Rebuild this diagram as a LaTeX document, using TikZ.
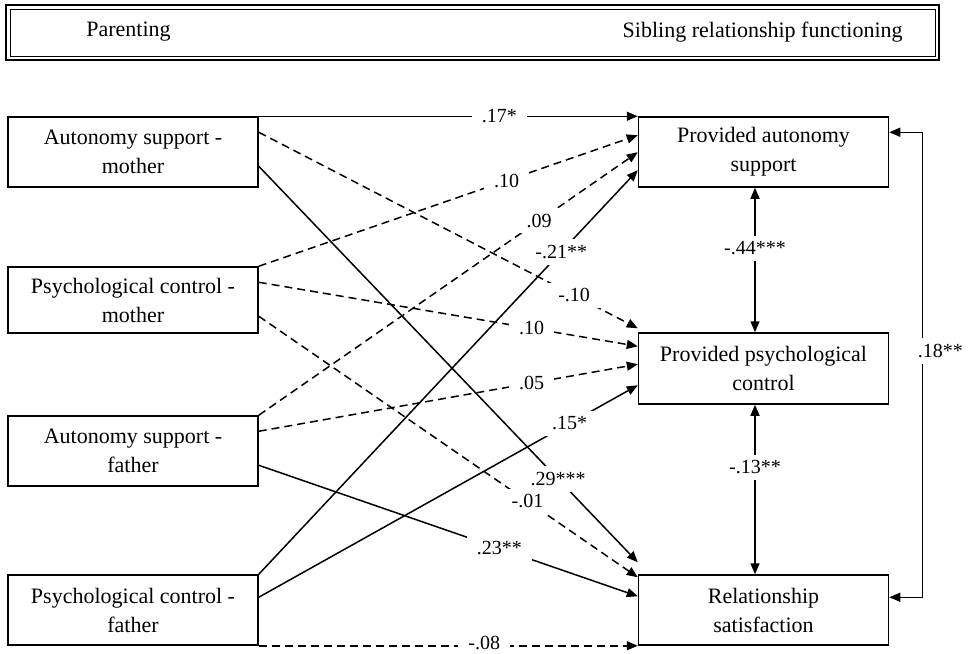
\documentclass[tikz,border=0pt]{standalone}
\usepackage{fontspec}
\setmainfont{Liberation Serif}
\usetikzlibrary{arrows.meta}
\tikzset{>={Stealth[length=5.5pt,width=4.5pt,inset=0pt]}}
\tikzset{
  varbox/.style={draw, line width=0.75pt, minimum width=125pt, minimum height=35pt, inner sep=0pt, align=center, font=\fontsize{11}{14.5}\selectfont},
  coef/.style={fill=white, inner xsep=5pt, inner ysep=3pt, font=\fontsize{10}{12}\selectfont},
  sig/.style={->, line width=0.75pt},
  nsig/.style={->, line width=0.75pt, dash pattern=on 4pt off 2.5pt}
}

\begin{document}
\begin{tikzpicture}[x=0.5pt, y=-0.5pt]
\useasboundingbox (0,0) rectangle (973,653);
\draw [line width=1.1pt] (6,5) rectangle (939,60);
\draw [line width=0.5pt] (10,9) rectangle (935,56);
\node (par) at (86,32) [anchor=west, inner sep=0pt, font=\fontsize{11}{13}\selectfont] {Parenting};
\node (sib) at (903,32) [anchor=east, inner sep=0pt, font=\fontsize{11}{13}\selectfont] {Sibling relationship functioning};
\node [varbox] (asm) at (133,152) {Autonomy support -\\mother};
\node [varbox, minimum height=33pt] (pcm) at (133,300) {Psychological control -\\mother};
\node [varbox] (asf) at (133,451) {Autonomy support -\\father};
\node [varbox] (pcf) at (133,610) {Psychological control -\\father};
\node [varbox] (pas) at (763.5,152) {Provided autonomy\\support};
\node [varbox, minimum height=35.5pt] (ppc) at (763.5,368.5) {Provided psychological\\control};
\node [varbox] (rs) at (763.5,610) {Relationship\\satisfaction};
\draw [sig] (asm.north east) -- (pas.north west) node [coef, pos=0.635] {.17*};
\draw [nsig] (pcm.north east) -- ([yshift=-9.5pt]pas.north west) node [coef, pos=0.654] {.10};
\draw [nsig] (asf.north east) -- ([yshift=-18pt]pas.north west) node [coef, pos=0.74] {.09};
\draw [sig] (pcf.north east) -- ([yshift=-27pt]pas.north west) node [coef, pos=0.798] {-.21**};
\draw [nsig] ([yshift=-8pt]asm.north east) -- ([yshift=2pt]ppc.north west) node [coef, pos=0.832] {-.10};
\draw [nsig] ([yshift=-8pt]pcm.north east) -- ([yshift=-7pt]ppc.north west) node [coef, pos=0.72] {.10};
\draw [nsig] ([yshift=-8pt]asf.north east) -- ([yshift=-16pt]ppc.north west) node [coef, pos=0.72] {.05};
\draw [sig] ([yshift=-11.5pt]pcf.north east) -- ([yshift=-26.5pt]ppc.north west) node [coef, pos=0.82] {.15*};
\draw [sig] ([yshift=-25pt]asm.north east) -- ([yshift=6pt]rs.north west) node [coef, pos=0.79] {.29***};
\draw [nsig] ([yshift=-25pt]pcm.north east) -- ([yshift=-1.5pt]rs.north west) node [coef, pos=0.709] {-.01};
\draw [sig] ([yshift=-25pt]asf.north east) -- ([yshift=-11pt]rs.north west) node [coef, pos=0.635] {.23**};
\draw [nsig] (pcf.south east) -- (rs.south west) node [coef, pos=0.595, yshift=1.5pt, inner ysep=1.5pt] {-.08};
\draw [<->, line width=0.75pt] ([xshift=-4.25pt]pas.south) -- ([xshift=-4.25pt]ppc.north) node [coef, pos=0.42] {-.44***};
\draw [<->, line width=0.75pt] ([xshift=-4.25pt]ppc.south) -- ([xshift=-4.25pt]rs.north) node [coef, pos=0.37] {-.13**};
\draw [<->, line width=0.75pt] ([yshift=-8pt]pas.north east) -- ++(16.5pt,0) |- ([yshift=-11.5pt]rs.north east) node [coef, pos=0.235, xshift=9pt] {.18**};
\end{tikzpicture}
\end{document}
